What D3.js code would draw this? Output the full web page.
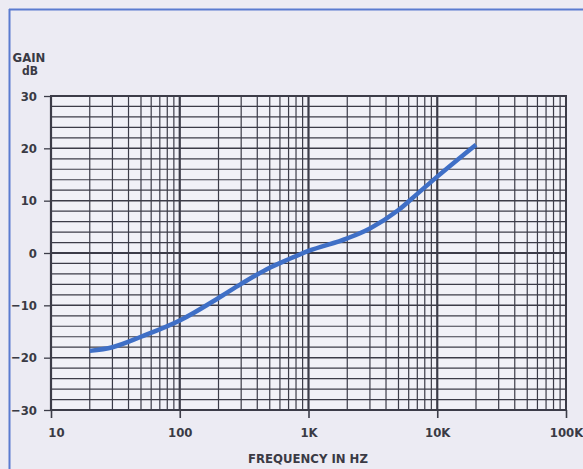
<!DOCTYPE html>
<html><head><meta charset="utf-8">
<script src="https://cdn.jsdelivr.net/npm/d3@7"></script>
<style>
html,body{margin:0;padding:0;background:#ecebf3;}
svg{display:block;}
text{font-family:"Liberation Sans Narrow","DejaVu Sans Condensed","Roboto Condensed",sans-serif;font-weight:bold;fill:#3a3a44;}
</style></head><body>
<svg id="c" width="583" height="469"></svg>
<script>
const freqs = [20, 30, 50, 100, 200, 300, 500, 700, 1000, 2000, 3000, 5000, 7000, 10000, 20000];
const gains = [-18.7, -18, -16, -12.9, -8.6, -5.9, -2.8, -1.2, 0.4, 2.8, 4.7, 8.2, 11.3, 14.6, 20.7];
const xTickValues = [10, 100, 1000, 10000, 100000];
const xTickLabels = ["10", "100", "1K", "10K", "100K"];
const yTickValues = [30, 20, 10, 0, -10, -20, -30];
const yTickLabels = ["30", "20", "10", "0", "-10", "-20", "-30"];

const svg = d3.select("#c");
const L = 51, R = 566, T = 96, B = 410;
const x = d3.scaleLog().domain([10, 100000]).range([L, R]);
const y = d3.scaleLinear().domain([-30, 30]).range([B, T]);

// outer blue frame
svg.append("line").attr("x1", 9).attr("x2", 583).attr("y1", 9.5).attr("y2", 9.5).attr("stroke", "#5a7bd0").attr("stroke-width", 2);
svg.append("line").attr("x1", 9.5).attr("x2", 9.5).attr("y1", 9).attr("y2", 469).attr("stroke", "#5a7bd0").attr("stroke-width", 2);

// plot background
svg.append("rect").attr("x", L).attr("y", T).attr("width", R - L).attr("height", B - T).attr("fill", "#f1f1f7");

const g = svg.append("g");
// horizontal grid every 2 dB
d3.range(-28, 30, 2).forEach(v => {
  g.append("line").attr("x1", L).attr("x2", R).attr("y1", y(v)).attr("y2", y(v))
    .attr("stroke", "#3c3c48").attr("stroke-width", v === 0 ? 2 : (v % 10 === 0 ? 1.5 : 1.2));
});
// vertical log grid
const vlines = [];
for (let d = 10; d < 100000; d *= 10) for (let k = 1; k <= 9; k++) vlines.push(d * k);
vlines.forEach(v => {
  const isDecade = xTickValues.includes(v);
  g.append("line").attr("x1", x(v)).attr("x2", x(v)).attr("y1", T).attr("y2", B)
    .attr("stroke", "#3c3c48").attr("stroke-width", isDecade ? 2.2 : 1.2);
});
// plot frame
g.append("rect").attr("x", L).attr("y", T).attr("width", R - L).attr("height", B - T)
  .attr("fill", "none").attr("stroke", "#3c3c48").attr("stroke-width", 2);

// axes
const yAxis = d3.axisLeft(y).tickValues(yTickValues).tickFormat((d, i) => yTickLabels[i].replace("-", "\u2212")).tickSize(7).tickPadding(7);
const ya = svg.append("g").attr("transform", `translate(${L},0)`).call(yAxis);
ya.select(".domain").remove();
ya.selectAll("line").attr("stroke", "#3c3c48").attr("stroke-width", 1.3);
ya.selectAll("text").style("font-size", "13px").attr("fill", "#3a3a44");

const xAxis = d3.axisBottom(x).tickValues(xTickValues).tickFormat((d, i) => xTickLabels[i]).tickSize(8).tickPadding(10);
const xa = svg.append("g").attr("transform", `translate(0,${B})`).call(xAxis);
xa.select(".domain").remove();
xa.selectAll("line").attr("stroke", "#3c3c48").attr("stroke-width", 1.6);
xa.selectAll("text").style("font-size", "13px").attr("fill", "#3a3a44");
xa.selectAll(".tick text").attr("dx", (d, i) => i === 0 ? 5 : 0);

// curve
const data = freqs.map((f, i) => [f, gains[i]]);
svg.append("path").datum(data)
  .attr("d", d3.line().x(d => x(d[0])).y(d => y(d[1])).curve(d3.curveMonotoneX))
  .attr("fill", "none").attr("stroke", "#3f6fc6").attr("stroke-width", 4.5).attr("stroke-linecap", "butt");

// labels
svg.append("text").attr("x", 29).attr("y", 62).attr("text-anchor", "middle").style("font-size", "13px").text("GAIN");
svg.append("text").attr("x", 30).attr("y", 75).attr("text-anchor", "middle").style("font-size", "12px").text("dB");
svg.append("text").attr("x", 308).attr("y", 463).attr("text-anchor", "middle").style("font-size", "13px").text("FREQUENCY IN HZ");
</script>
</body></html>
